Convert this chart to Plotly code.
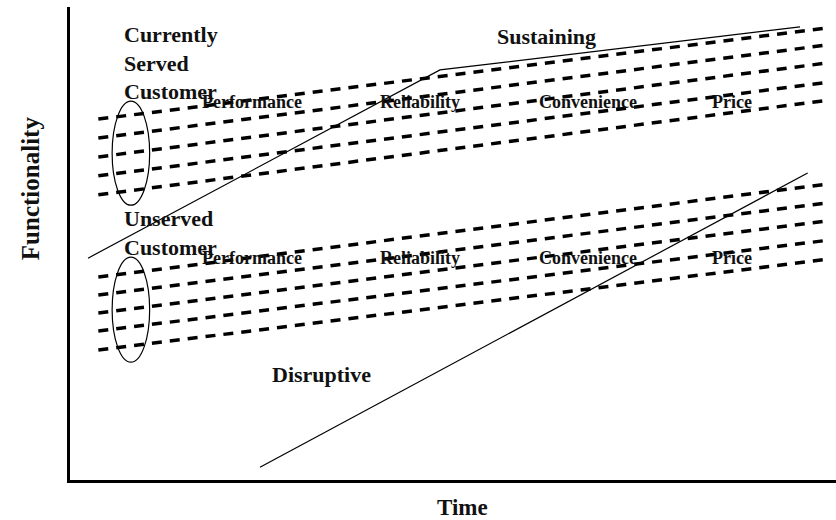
"""Sustaining vs disruptive innovation: functionality trajectories over time."""
import plotly.graph_objects as go

# --- data (time 0-100, functionality 0-100) ---
BUNDLE_T = [3.7, 99.0]
SERVED_START = [76.3, 72.3, 68.3, 64.3, 60.3]
SERVED_END = [95.6, 92.0, 88.2, 84.1, 80.3]
UNSERVED_START = [42.9, 39.1, 35.3, 31.5, 27.5]
UNSERVED_END = [62.6, 58.6, 54.8, 50.7, 46.7]

SUSTAIN_T = [2.35, 48.3, 95.3]
SUSTAIN_F = [46.9, 86.7, 95.8]
DISRUPT_T = [24.8, 96.3]
DISRUPT_F = [2.7, 64.9]

ELLIPSE_T = [5.5, 10.4]
SERVED_ELLIPSE_F = [58.1, 80.1]
UNSERVED_ELLIPSE_F = [24.9, 47.1]

ATTRIBUTES = ["Performance", "Reliability", "Convenience", "Price"]
ATTR_T = [17.0, 40.2, 61.0, 83.6]
ATTR_F_SERVED = 79.9
ATTR_F_UNSERVED = 46.9

FONT = "Liberation Serif, Times New Roman, serif"
INK = "#111111"

fig = go.Figure()

# dashed attribute lines, two bundles
for starts, ends in [(SERVED_START, SERVED_END), (UNSERVED_START, UNSERVED_END)]:
    for a, b in zip(starts, ends):
        fig.add_trace(go.Scatter(x=BUNDLE_T, y=[a, b], mode="lines",
                                 line=dict(color="black", width=3.5, dash="10px,8px"),
                                 hoverinfo="skip", showlegend=False))

# sustaining + disruptive trajectories
fig.add_trace(go.Scatter(x=SUSTAIN_T, y=SUSTAIN_F, mode="lines",
                         line=dict(color="black", width=1.2),
                         hoverinfo="skip", showlegend=False))
fig.add_trace(go.Scatter(x=DISRUPT_T, y=DISRUPT_F, mode="lines",
                         line=dict(color="black", width=1.2),
                         hoverinfo="skip", showlegend=False))

# customer-group ellipses
for fr in (SERVED_ELLIPSE_F, UNSERVED_ELLIPSE_F):
    fig.add_shape(type="circle", xref="x", yref="y",
                  x0=ELLIPSE_T[0], x1=ELLIPSE_T[1], y0=fr[0], y1=fr[1],
                  line=dict(color="black", width=1.2))

big = dict(family=FONT, size=22, color=INK, weight="bold")
small = dict(family=FONT, size=18, color=INK, weight="bold")

def label(text, x, y, font, **kw):
    fig.add_annotation(text=text, x=x, y=y, xref="x", yref="y", showarrow=False,
                       xanchor="left", yanchor="middle", align="left", font=font, **kw)

label("Currently<br>Served<br>Customer", 6.8, 88.2, big)
label("Unserved<br>Customer", 6.8, 52.2, big)
label("Sustaining", 55.5, 93.7, big)
label("Disruptive", 26.1, 22.4, big)
for name, t in zip(ATTRIBUTES, ATTR_T):
    label(name, t, ATTR_F_SERVED, small)
    label(name, t, ATTR_F_UNSERVED, small)

# axis titles
fig.add_annotation(text="Time", x=51.3, y=0, xref="x", yref="paper", yshift=-27,
                   showarrow=False, xanchor="center", yanchor="middle",
                   font=dict(family=FONT, size=23, color=INK, weight="bold"))
fig.add_annotation(text="Functionality", x=0, y=61.7, xref="paper", yref="y", xshift=-40,
                   showarrow=False, textangle=-90, xanchor="center", yanchor="middle",
                   font=dict(family=FONT, size=25, color=INK, weight="bold"))

axis = dict(range=[0, 100], showgrid=False, zeroline=False, showticklabels=False,
            ticks="", showline=True, linecolor="black", linewidth=3, fixedrange=True)
fig.update_layout(
    width=836, height=520,
    margin=dict(l=70, r=0, t=7, b=40),
    paper_bgcolor="white", plot_bgcolor="white",
    xaxis=axis, yaxis=axis,
    showlegend=False,
)
# drop the browser's default 8px body margin so the figure sits at the page corner
fig.write_html("out.html", config={"displayModeBar": False},
               post_script="document.body.style.margin='0';")
